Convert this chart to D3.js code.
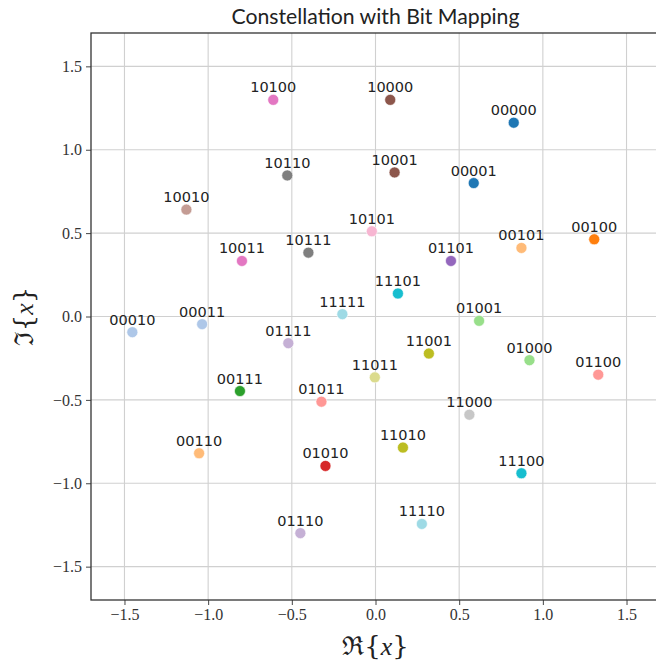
<!DOCTYPE html>
<html>
<head>
<meta charset="utf-8">
<script src="https://cdn.jsdelivr.net/npm/d3@7"></script>
<style>
  html, body { margin: 0; padding: 0; background: #fff; }
  svg { display: block; }
</style>
</head>
<body>
<svg id="chart" width="656" height="666"></svg>
<script>
// ---- data ----
const bitLabels = ["00000","00001","00010","00011","00100","00101","00110","00111",
                   "01000","01001","01010","01011","01100","01101","01110","01111",
                   "10000","10001","10010","10011","10100","10101","10110","10111",
                   "11000","11001","11010","11011","11100","11101","11110","11111"];
const realParts = [0.826, 0.587, -1.453, -1.036, 1.307, 0.872, -1.054, -0.810,
                   0.920, 0.619, -0.299, -0.323, 1.331, 0.451, -0.449, -0.521,
                   0.088, 0.114, -1.130, -0.798, -0.611, -0.022, -0.527, -0.401,
                   0.561, 0.319, 0.164, -0.004, 0.872, 0.134, 0.277, -0.198];
const imagParts = [1.162, 0.800, -0.094, -0.046, 0.463, 0.411, -0.820, -0.447,
                   -0.262, -0.026, -0.896, -0.511, -0.349, 0.333, -1.299, -0.160,
                   1.299, 0.864, 0.641, 0.333, 1.299, 0.511, 0.846, 0.383,
                   -0.589, -0.222, -0.786, -0.365, -0.940, 0.138, -1.244, 0.014];
const tickValues = [-1.5, -1.0, -0.5, 0.0, 0.5, 1.0, 1.5];
const axisDomain = [-1.7, 1.7];
const titleText = "Constellation with Bit Mapping";

// tab20 palette (style)
const tab20 = ["#1f77b4","#aec7e8","#ff7f0e","#ffbb78","#2ca02c","#98df8a","#d62728","#ff9896",
               "#9467bd","#c5b0d5","#8c564b","#c49c94","#e377c2","#f7b6d2","#7f7f7f","#c7c7c7",
               "#bcbd22","#dbdb8d","#17becf","#9edae5"];

const points = bitLabels.map((b, i) => ({label: b, re: realParts[i], im: imagParts[i], i}));
const n = points.length;
const colorOf = i => tab20[Math.min(19, Math.floor(i / (n - 1) * 20))];

// ---- layout ----
const svg = d3.select("#chart");
const plot = {left: 91, top: 33, right: 660, bottom: 600};

const x = d3.scaleLinear().domain(axisDomain).range([plot.left, plot.right]);
const y = d3.scaleLinear().domain(axisDomain).range([plot.bottom, plot.top]);

// grid
const grid = svg.append("g");
grid.selectAll("line.gx").data(tickValues).join("line")
  .attr("x1", d => x(d)).attr("x2", d => x(d))
  .attr("y1", plot.top).attr("y2", plot.bottom)
  .attr("stroke", "#d0d0d0").attr("stroke-width", 1.1);
grid.selectAll("line.gy").data(tickValues).join("line")
  .attr("y1", d => y(d)).attr("y2", d => y(d))
  .attr("x1", plot.left).attr("x2", plot.right)
  .attr("stroke", "#d0d0d0").attr("stroke-width", 1.1);

const fmt = d => d3.format(".1f")(d).replace("-", "\u2212");

// axes
const xAxis = svg.append("g")
  .attr("transform", `translate(0,${plot.bottom})`)
  .call(d3.axisBottom(x).tickValues(tickValues).tickFormat(fmt).tickSize(5).tickPadding(4).tickSizeOuter(0));
const yAxis = svg.append("g")
  .attr("transform", `translate(${plot.left},0)`)
  .call(d3.axisLeft(y).tickValues(tickValues).tickFormat(fmt).tickSize(5).tickPadding(4).tickSizeOuter(0));
[xAxis, yAxis].forEach(a => {
  a.select(".domain").remove();
  a.selectAll(".tick line").attr("stroke", "#444").attr("stroke-width", 1);
  a.selectAll(".tick text")
    .attr("fill", "#333")
    .style("font-family", "'Liberation Serif','DejaVu Serif',serif")
    .style("font-size", "16px");
});

// frame
svg.append("rect")
  .attr("x", plot.left).attr("y", plot.top)
  .attr("width", plot.right - plot.left).attr("height", plot.bottom - plot.top)
  .attr("fill", "none").attr("stroke", "#333").attr("stroke-width", 1.3);

// points
svg.append("g").selectAll("circle").data(points).join("circle")
  .attr("cx", d => x(d.re)).attr("cy", d => y(d.im))
  .attr("r", 5.5)
  .attr("fill", d => colorOf(d.i))
  .attr("stroke", "#fff").attr("stroke-width", 0.6);

// point labels
svg.append("g").selectAll("text").data(points).join("text")
  .attr("x", d => x(d.re)).attr("y", d => y(d.im) - 7.5)
  .attr("text-anchor", "middle")
  .attr("fill", "#222")
  .style("font-family", "'DejaVu Sans',sans-serif")
  .style("font-size", "14.5px")
  .text(d => d.label);

// title
svg.append("text")
  .attr("x", (plot.left + plot.right) / 2).attr("y", 24)
  .attr("text-anchor", "middle")
  .attr("fill", "#222")
  .attr("textLength", 288).attr("lengthAdjust", "spacingAndGlyphs")
  .style("font-family", "Lato,'Open Sans',sans-serif")
  .style("font-size", "21px")
  .text(titleText);

// axis labels
const xl = svg.append("text")
  .attr("x", (plot.left + plot.right) / 2).attr("y", 655)
  .attr("text-anchor", "middle").attr("fill", "#222")
  .style("font-family", "'DejaVu Serif','Liberation Serif',serif")
  .style("font-size", "26px");
xl.append("tspan").text("\u211C{");
xl.append("tspan").style("font-style", "italic").style("font-family", "'Liberation Serif',serif").text("x");
xl.append("tspan").text("}");

const yl = svg.append("text")
  .attr("transform", `translate(33,${(plot.top + plot.bottom) / 2}) rotate(-90)`)
  .attr("text-anchor", "middle").attr("fill", "#222")
  .style("font-family", "'DejaVu Serif','Liberation Serif',serif")
  .style("font-size", "26px");
yl.append("tspan").text("\u2111{");
yl.append("tspan").style("font-style", "italic").style("font-family", "'Liberation Serif',serif").text("x");
yl.append("tspan").text("}");
</script>
</body>
</html>
